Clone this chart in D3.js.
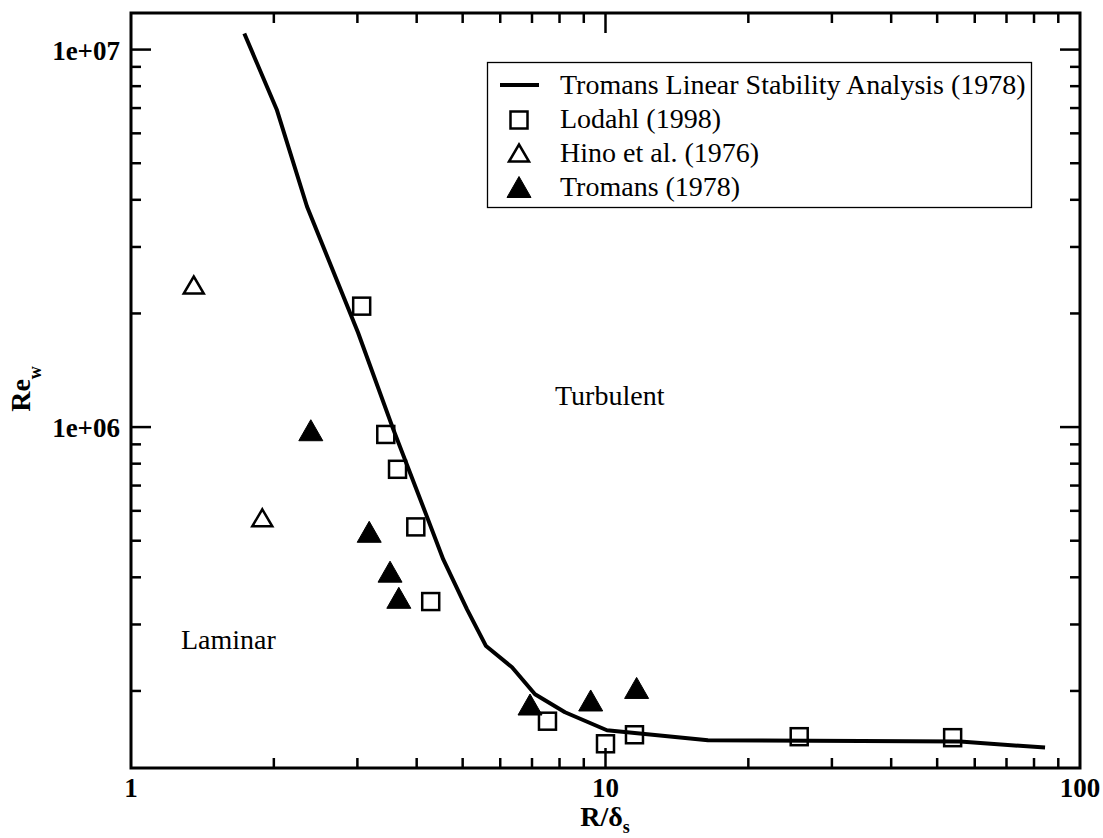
<!DOCTYPE html>
<html>
<head>
<meta charset="utf-8">
<script src="https://cdn.jsdelivr.net/npm/d3@7"></script>
<style>
  html, body { margin: 0; padding: 0; background: #fff; }
  svg { display: block; }
  text { font-family: "Liberation Serif", "Times New Roman", serif; fill: #000; }
</style>
</head>
<body>
<svg id="chart" width="1103" height="838"></svg>
<script>
// Tromans linear stability curve: R/delta_s vs Re_w
const curveX = [1.733, 2.028, 2.349, 3.009, 3.571, 4.200, 4.551, 5.107, 5.601, 6.353, 7.103, 8.215, 10.07, 16.44, 55.87, 84.4];
const curveY = [1.103e7, 6.94e6, 3.84e6, 1.78e6, 9.86e5, 5.81e5, 4.46e5, 3.29e5, 2.63e5, 2.31e5, 1.96e5, 1.756e5, 1.574e5, 1.481e5, 1.469e5, 1.416e5];

// Lodahl (1998) measurements
const lodahlX = [3.063, 3.443, 3.645, 3.983, 4.282, 7.546, 10.0, 11.51, 25.6, 53.9];
const lodahlY = [2.091e6, 9.56e5, 7.73e5, 5.44e5, 3.45e5, 1.663e5, 1.449e5, 1.531e5, 1.513e5, 1.504e5];

// Hino et al. (1976) measurements
const hinoX = [1.356, 1.891];
const hinoY = [2.379e6, 5.75e5];

// Tromans (1978) measurements
const tromansX = [2.393, 3.177, 3.515, 3.668, 6.933, 9.307, 11.63];
const tromansY = [9.81e5, 5.28e5, 4.14e5, 3.53e5, 1.841e5, 1.887e5, 2.037e5];

const xTickLabels = ["1", "10", "100"];
const yTickLabels = ["1e+06", "1e+07"];
const legendLabels = ["Tromans Linear Stability Analysis (1978)", "Lodahl (1998)", "Hino et al. (1976)", "Tromans (1978)"];

const svg = d3.select("#chart");
const plotL = 131, plotR = 1080, plotT = 13, plotB = 768;

const x = d3.scaleLog().domain([1, 100]).range([plotL, plotR]);
const y = d3.scaleLog().domain([1.25e5, 1.25e7]).range([plotB, plotT]);

// frame
svg.append("rect")
  .attr("x", plotL).attr("y", plotT)
  .attr("width", plotR - plotL).attr("height", plotB - plotT)
  .attr("fill", "none").attr("stroke", "#000").attr("stroke-width", 3);

// tick values: majors at decades, minors at 2..9
const xMajor = [1, 10, 100];
const xMinor = [];
[1, 10].forEach(d => { for (let k = 2; k <= 9; k++) xMinor.push(d * k); });
const yMajor = [1e6, 1e7];
const yMinor = [];
[1e5, 1e6, 1e7].forEach(d => { for (let k = 2; k <= 9; k++) { const v = d * k; if (v > 1.25e5 && v < 1.25e7) yMinor.push(v); } });

const ticks = svg.append("g").attr("stroke", "#000").attr("stroke-width", 2.5);
function xTicks(vals, len) {
  vals.forEach(v => {
    const px = x(v);
    ticks.append("line").attr("x1", px).attr("x2", px).attr("y1", plotB).attr("y2", plotB - len);
    ticks.append("line").attr("x1", px).attr("x2", px).attr("y1", plotT).attr("y2", plotT + len);
  });
}
function yTicks(vals, len) {
  vals.forEach(v => {
    const py = y(v);
    ticks.append("line").attr("x1", plotL).attr("x2", plotL + len).attr("y1", py).attr("y2", py);
    ticks.append("line").attr("x1", plotR).attr("x2", plotR - len).attr("y1", py).attr("y2", py);
  });
}
xTicks(xMajor.slice(1, 2), 20);
xTicks(xMinor, 10);
yTicks(yMajor, 20);
yTicks(yMinor, 10);

// tick labels
svg.append("g").selectAll("text").data(xMajor).join("text")
  .attr("x", d => x(d)).attr("y", 797)
  .attr("text-anchor", "middle")
  .attr("font-size", 27).attr("font-weight", "bold")
  .text((d, i) => xTickLabels[i]);

svg.append("g").selectAll("text").data(yMajor).join("text")
  .attr("x", 120).attr("y", d => y(d) + 10)
  .attr("text-anchor", "end")
  .attr("font-size", 27).attr("font-weight", "bold")
  .text((d, i) => yTickLabels[i]);

// axis titles
const xt = svg.append("text")
  .attr("x", 605).attr("y", 826)
  .attr("text-anchor", "middle")
  .attr("font-size", 28).attr("font-weight", "bold");
xt.append("tspan").text("R/δ");
xt.append("tspan").attr("font-size", 18).attr("dy", 7).text("s");

const yt = svg.append("text")
  .attr("transform", "translate(30,389) rotate(-90)")
  .attr("text-anchor", "middle")
  .attr("font-size", 28).attr("font-weight", "bold");
yt.append("tspan").text("Re");
yt.append("tspan").attr("font-size", 18).attr("dy", 11).text("w");

// region labels
svg.append("text").attr("x", 555).attr("y", 405)
  .attr("font-size", 28).text("Turbulent");
svg.append("text").attr("x", 181).attr("y", 649)
  .attr("font-size", 28).text("Laminar");

// stability curve
const line = d3.line().x(d => x(d[0])).y(d => y(d[1]));
svg.append("path")
  .datum(curveX.map((v, i) => [v, curveY[i]]))
  .attr("d", line)
  .attr("fill", "none").attr("stroke", "#000")
  .attr("stroke-width", 4).attr("stroke-linejoin", "round");

// marker shapes
const sq = 17;
function square(g, cx, cy) {
  g.append("rect").attr("x", cx - sq / 2).attr("y", cy - sq / 2)
    .attr("width", sq).attr("height", sq)
    .attr("fill", "none").attr("stroke", "#000").attr("stroke-width", 2.5);
}
function triangle(g, cx, cy, filled) {
  const w = filled ? 24 : 20, h = filled ? 21 : 17;
  g.append("path")
    .attr("d", `M${cx},${cy - h / 2}L${cx + w / 2},${cy + h / 2}L${cx - w / 2},${cy + h / 2}Z`)
    .attr("fill", filled ? "#000" : "none")
    .attr("stroke", "#000").attr("stroke-width", filled ? 1 : 2.5)
    .attr("stroke-linejoin", "miter");
}

const marks = svg.append("g");
lodahlX.forEach((v, i) => square(marks, x(v), y(lodahlY[i])));
hinoX.forEach((v, i) => triangle(marks, x(v), y(hinoY[i]), false));
tromansX.forEach((v, i) => triangle(marks, x(v), y(tromansY[i]), true));

// legend
const lg = svg.append("g");
lg.append("rect").attr("x", 487.5).attr("y", 62.5).attr("width", 544).attr("height", 145)
  .attr("fill", "#fff").attr("stroke", "#000").attr("stroke-width", 1.3);
const rowBase = [94, 128, 162, 196];
lg.append("line").attr("x1", 500).attr("x2", 539).attr("y1", 85).attr("y2", 85)
  .attr("stroke", "#000").attr("stroke-width", 4);
square(lg, 519, 120);
triangle(lg, 519, 153, false);
triangle(lg, 519, 187, true);
lg.selectAll("text.lab").data(legendLabels).join("text")
  .attr("class", "lab")
  .attr("x", 560).attr("y", (d, i) => rowBase[i])
  .attr("font-size", 28).text(d => d);
</script>
</body>
</html>
